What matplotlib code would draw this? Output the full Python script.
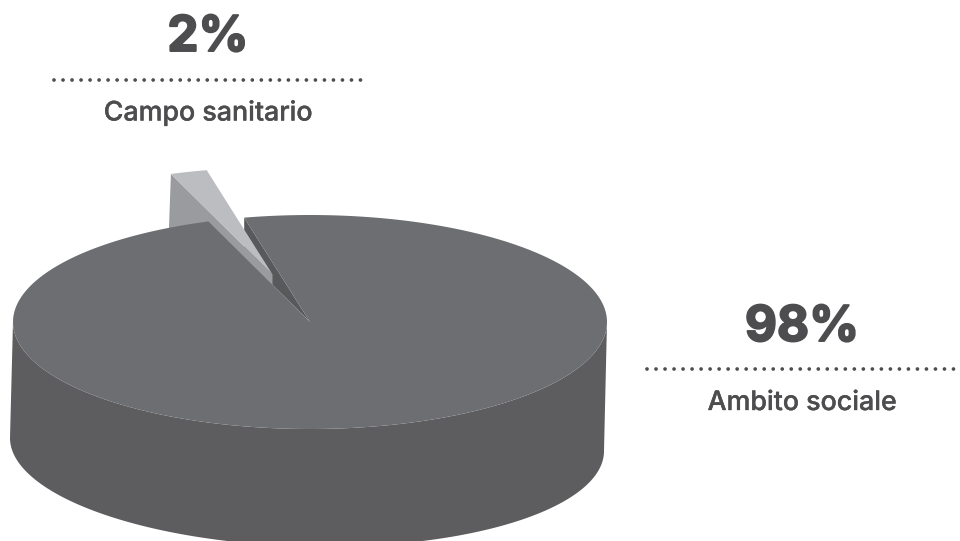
import numpy as np
import matplotlib
matplotlib.use("Agg")
import matplotlib.pyplot as plt
from matplotlib.patches import Polygon
import matplotlib.patheffects as pe

categories = ["Campo sanitario", "Ambito sociale"]
shares = [2, 98]
labels = ["2%", "98%"]

plt.rcParams['lines.scale_dashes'] = False
TOP = "#6d6e71"; SIDE = "#5d5d5f"; WALL = "#58595b"
SL_TOP = "#bcbdc0"; SL_SIDE = "#9a9b9e"; INK = "#4d4d4f"

fig = plt.figure(figsize=(9.6, 5.41), dpi=100)
ax = fig.add_axes([0, 0, 1, 1])
ax.set_xlim(0, 960); ax.set_ylim(541, 0); ax.axis("off")

cx, cy, rx, ry = 310, 322, 297, 107
bx, by, brx, bry, tilt = 307, 444.5, 297, 102, 0.022
start = 102.8
a0 = start
a1 = start + shares[0] / sum(shares) * 360
a2 = start + 360

def rim(deg, x=cx, y=cy, a=rx, b=ry, s=0.0):
    t = np.radians(deg)
    return np.column_stack([x + a * np.cos(t), y - b * np.sin(t) + s * a * np.cos(t)])

# main side
t = np.linspace(180, 360, 300)
side = np.vstack([rim(t), rim(t[::-1], bx, by, brx, bry, tilt)])
ax.add_patch(Polygon(side, fc=SIDE, ec="none", zorder=1))

# inner wall of the main slice
p0 = rim(a0)[0]; p1 = rim(a1)[0]
tip = np.array([cx, cy])
u = (p0[0] - p1[0]) / (tip[0] - p1[0])
wall_low = p1 + u * (tip - p1)
ax.add_patch(Polygon([p0, wall_low, tip], fc=WALL, ec="none", zorder=2))

# exploded slice
off = np.array([-37.5, -47.5])
arc = rim(np.linspace(a0, a1, 12)) + off
s_tip = tip + off
ax.add_patch(Polygon(np.vstack([arc[-1], arc[-1] + [-2, 55], s_tip + [0, 18], s_tip]),
                     fc=SL_SIDE, ec="none", zorder=3))
ax.add_patch(Polygon(np.vstack([s_tip, arc]), fc=SL_TOP, ec="none", zorder=4))

# main top
ang = np.linspace(a1, a2, 500)
ax.add_patch(Polygon(np.vstack([tip, rim(ang)]), fc=TOP, ec="none", zorder=5))

# annotations
pos = [(208, 51, 79.5, 120.5, 54.3, 365), (802, 341, 369.3, 410, 647, 960)]
fam = ["Inter", "DejaVu Sans"]
for lab, cat, (x, y1, y2, y3, x0, x1) in zip(labels, categories, pos):
    ax.text(x, y1, lab, ha="center", va="baseline", fontsize=35.5, fontweight="bold",
            family=fam, color=INK,
            path_effects=[pe.withStroke(linewidth=1.4, foreground=INK)])
    ax.plot([x0, x1], [y2, y2], color=INK, lw=2.7, dash_capstyle="round",
            linestyle=(0, (0.01, 6.48)))
    ax.text(x, y3, cat, ha="center", va="baseline", fontsize=19.3, fontweight="medium",
            family=fam, color=INK,
            path_effects=[pe.withStroke(linewidth=0.25, foreground=INK)])

fig.savefig("out.png", dpi=100)
